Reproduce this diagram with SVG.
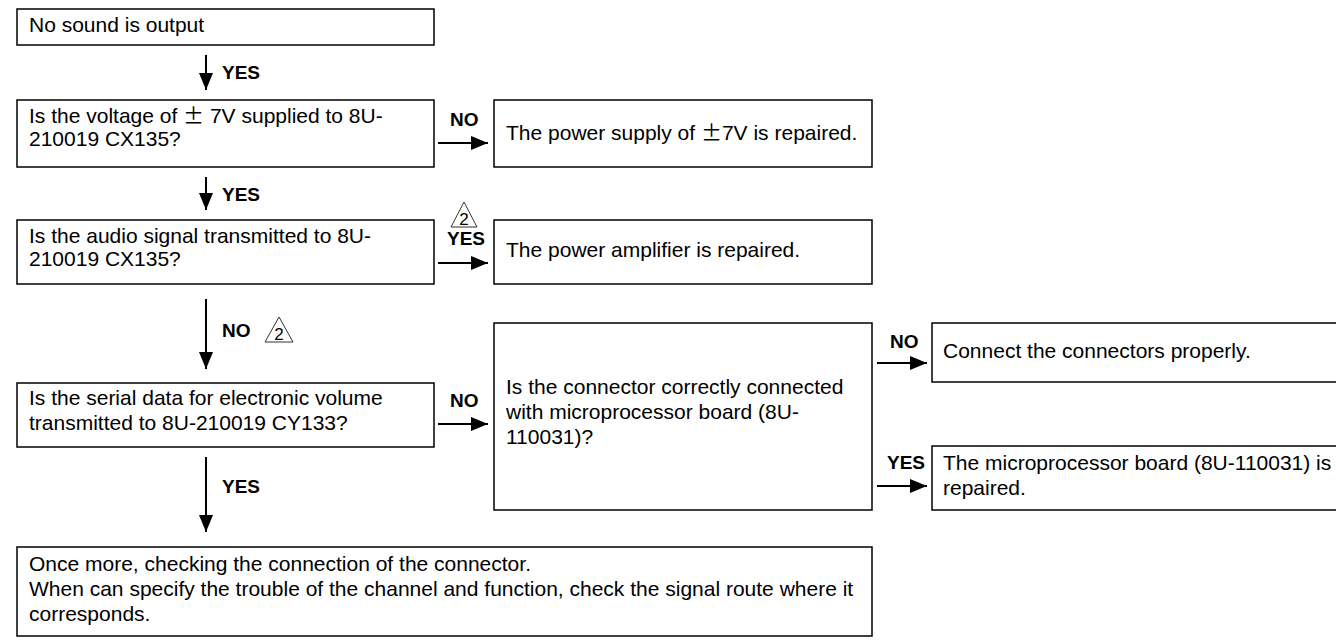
<svg xmlns="http://www.w3.org/2000/svg" width="1336" height="640" viewBox="0 0 1336 640">
<style>
.box{fill:#fff;stroke:#000;stroke-width:1.5}
.t{font-family:"Liberation Sans",Arial,sans-serif;font-size:21px;fill:#000}
.lb{font-family:"Liberation Sans",Arial,sans-serif;font-size:19px;font-weight:bold;fill:#000}
.ln{stroke:#000;stroke-width:2;fill:none}
.tri{fill:none;stroke:#333;stroke-width:1}
.sym{font-family:"Liberation Sans",Arial,sans-serif;font-size:17px;fill:#000;text-anchor:middle}
.pm{font-family:"Noto Sans CJK JP","Liberation Sans",sans-serif}
</style>
<defs>
<marker id="ah" markerUnits="userSpaceOnUse" markerWidth="18" markerHeight="15" refX="17" refY="7" orient="auto"><path d="M0,0 L17,7 L0,14 z" fill="#000"/></marker>
</defs>
<rect width="1336" height="640" fill="#fff"/>
<g id="connectors">
<line class="ln" x1="206" y1="55" x2="206" y2="90" marker-end="url(#ah)"/>
<text class="lb" x="222" y="79">YES</text>
<line class="ln" x1="438" y1="143" x2="488" y2="143" marker-end="url(#ah)"/>
<text class="lb" x="450" y="126">NO</text>
<line class="ln" x1="206" y1="177" x2="206" y2="210" marker-end="url(#ah)"/>
<text class="lb" x="222" y="201">YES</text>
<line class="ln" x1="438" y1="263" x2="488" y2="263" marker-end="url(#ah)"/>
<text class="lb" x="447" y="245">YES</text>
<polygon class="tri" points="464,202 451,227 477,227"/>
<text class="sym" x="464" y="225">2</text>
<line class="ln" x1="206" y1="299" x2="206" y2="369" marker-end="url(#ah)"/>
<text class="lb" x="222" y="337">NO</text>
<polygon class="tri" points="279,317 265,342 293,342"/>
<text class="sym" x="279" y="340">2</text>
<line class="ln" x1="438" y1="424" x2="488" y2="424" marker-end="url(#ah)"/>
<text class="lb" x="450" y="407">NO</text>
<line class="ln" x1="877" y1="363" x2="927" y2="363" marker-end="url(#ah)"/>
<text class="lb" x="890" y="348">NO</text>
<line class="ln" x1="877" y1="486" x2="927" y2="486" marker-end="url(#ah)"/>
<text class="lb" x="887" y="469">YES</text>
<line class="ln" x1="206" y1="457" x2="206" y2="532" marker-end="url(#ah)"/>
<text class="lb" x="222" y="493">YES</text>
</g>
<g id="n1"><rect class="box" x="17" y="9" width="417" height="36"/><text class="t" x="29" y="32">No sound is output</text></g>
<g id="n2"><rect class="box" x="17" y="100" width="417" height="67"/><text class="t" x="29" y="123">Is the voltage of <tspan class="pm">±</tspan> 7V supplied to 8U-</text><text class="t" x="29" y="146">210019 CX135?</text></g>
<g id="n3"><rect class="box" x="494" y="100" width="378" height="67"/><text class="t" x="506" y="140">The power supply of <tspan class="pm">±</tspan>7V is repaired.</text></g>
<g id="n4"><rect class="box" x="17" y="220" width="417" height="64"/><text class="t" x="29" y="243">Is the audio signal transmitted to 8U-</text><text class="t" x="29" y="266">210019 CX135?</text></g>
<g id="n5"><rect class="box" x="494" y="220" width="378" height="64"/><text class="t" x="506" y="257">The power amplifier is repaired.</text></g>
<g id="n6"><rect class="box" x="17" y="383" width="417" height="64"/><text class="t" x="29" y="405">Is the serial data for electronic volume</text><text class="t" x="29" y="430">transmitted to 8U-210019 CY133?</text></g>
<g id="n7"><rect class="box" x="494" y="323" width="378" height="187"/><text class="t" x="506" y="394">Is the connector correctly connected</text><text class="t" x="506" y="419">with microprocessor board (8U-</text><text class="t" x="506" y="444">110031)?</text></g>
<g id="n8"><rect class="box" x="932" y="323" width="410" height="59"/><text class="t" x="943" y="358">Connect the connectors properly.</text></g>
<g id="n9"><rect class="box" x="932" y="446" width="410" height="64"/><text class="t" x="943" y="470">The microprocessor board (8U-110031) is</text><text class="t" x="943" y="495">repaired.</text></g>
<g id="n10"><rect class="box" x="17" y="547" width="855" height="89"/><text class="t" x="29" y="571">Once more, checking the connection of the connector.</text><text class="t" x="29" y="596">When can specify the trouble of the channel and function, check the signal route where it</text><text class="t" x="29" y="621">corresponds.</text></g>
</svg>
